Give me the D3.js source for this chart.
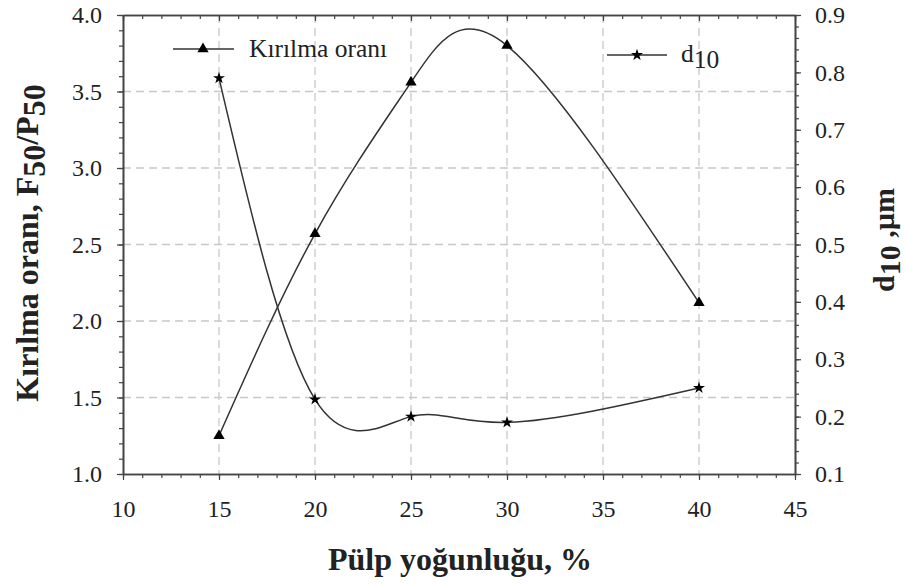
<!DOCTYPE html>
<html><head><meta charset="utf-8">
<script src="https://cdn.jsdelivr.net/npm/d3@7"></script>
<style>
body{margin:0;background:#fff;}
svg text{fill:#222;}
</style></head>
<body><svg id="c" width="906" height="585"></svg>
<script>
const xValues = [15, 20, 25, 30, 40];
const kirilmaOrani = [1.25, 2.57, 3.56, 3.80, 2.12];
const d10 = [0.79, 0.23, 0.20, 0.19, 0.25];
const xTicks = [10, 15, 20, 25, 30, 35, 40, 45];
const yLeftTicks = [1.0, 1.5, 2.0, 2.5, 3.0, 3.5, 4.0];
const yRightTicks = [0.1, 0.2, 0.3, 0.4, 0.5, 0.6, 0.7, 0.8, 0.9];
const xGrid = [15, 20, 25, 30, 35, 40];
const yGrid = [1.5, 2.0, 2.5, 3.0, 3.5];

const FONT = "Liberation Serif";
const svg = d3.select("#c");
const L = 123, R = 795, T = 15, B = 474;
const x = d3.scaleLinear().domain([10, 45]).range([L, R]);
const yL = d3.scaleLinear().domain([1, 4]).range([B, T]);
const yR = d3.scaleLinear().domain([0.1, 0.9]).range([B, T]);

const g = svg.append("g");
g.selectAll(".vg").data(xGrid).enter().append("line")
  .attr("x1", d => x(d)).attr("x2", d => x(d)).attr("y1", T).attr("y2", B)
  .attr("stroke", "#c8c8c8").attr("stroke-width", 1.3).attr("stroke-dasharray", "8,5");
g.selectAll(".hg").data(yGrid).enter().append("line")
  .attr("y1", d => yL(d)).attr("y2", d => yL(d)).attr("x1", L).attr("x2", R)
  .attr("stroke", "#c8c8c8").attr("stroke-width", 1.3).attr("stroke-dasharray", "8,5");

function styleAxis(sel, fs) {
  sel.attr("font-family", FONT);
  sel.select(".domain").attr("stroke", "#444").attr("stroke-width", 1.6);
  sel.selectAll(".tick line").attr("stroke", "#444").attr("stroke-width", 1.2);
  sel.selectAll("text").attr("font-size", fs).attr("font-family", FONT).attr("fill", "#222");
}
const minorX = d3.range(10, 45.01, 1);
const minorYL = d3.range(1, 4.001, 0.1);
const minorYR = d3.range(0.1, 0.9001, 0.02);

svg.append("g").attr("transform", `translate(0,${B})`)
  .call(d3.axisBottom(x).tickValues(minorX).tickSize(4).tickFormat("").tickSizeOuter(0))
  .call(s => styleAxis(s, 24));
svg.append("g").attr("transform", `translate(0,${B})`)
  .call(d3.axisBottom(x).tickValues(xTicks).tickSize(6).tickPadding(20).tickFormat(d3.format("d")).tickSizeOuter(0))
  .call(s => styleAxis(s, 24));
svg.append("g").attr("transform", `translate(0,${T})`)
  .call(d3.axisTop(x).tickValues(minorX).tickSize(-4).tickFormat("").tickSizeOuter(0))
  .call(s => styleAxis(s, 24));
svg.append("g").attr("transform", `translate(0,${T})`)
  .call(d3.axisTop(x).tickValues(xTicks).tickSize(-6).tickFormat("").tickSizeOuter(0))
  .call(s => styleAxis(s, 24));
svg.append("g").attr("transform", `translate(${L},0)`)
  .call(d3.axisLeft(yL).tickValues(minorYL).tickSize(4).tickFormat("").tickSizeOuter(0))
  .call(s => styleAxis(s, 24));
svg.append("g").attr("transform", `translate(${L},0)`)
  .call(d3.axisLeft(yL).tickValues(yLeftTicks).tickSize(6).tickPadding(15).tickFormat(d3.format(".1f")).tickSizeOuter(0))
  .call(s => styleAxis(s, 24));
svg.append("g").attr("transform", `translate(${R},0)`)
  .call(d3.axisRight(yR).tickValues(minorYR).tickSize(4).tickFormat("").tickSizeOuter(0))
  .call(s => styleAxis(s, 24));
svg.append("g").attr("transform", `translate(${R},0)`)
  .call(d3.axisRight(yR).tickValues(yRightTicks).tickSize(6).tickPadding(14).tickFormat(d3.format(".1f")).tickSizeOuter(0))
  .call(s => styleAxis(s, 24));

const lineK = d3.line().x((d, i) => x(xValues[i])).y(d => yL(d)).curve(d3.curveNatural);
const lineD = d3.line().x((d, i) => x(xValues[i])).y(d => yR(d)).curve(d3.curveNatural);
svg.append("path").attr("d", lineK(kirilmaOrani)).attr("fill", "none").attr("stroke", "#333").attr("stroke-width", 1.5);
svg.append("path").attr("d", lineD(d10)).attr("fill", "none").attr("stroke", "#333").attr("stroke-width", 1.5);

const tri = d3.symbol().type(d3.symbolTriangle).size(55);
const star = d3.symbol().type(d3.symbolStar).size(45);
svg.selectAll(".tri").data(kirilmaOrani).enter().append("path")
  .attr("d", tri).attr("transform", (d, i) => `translate(${x(xValues[i])},${yL(d)})`).attr("fill", "#000");
svg.selectAll(".star").data(d10).enter().append("path")
  .attr("d", star).attr("transform", (d, i) => `translate(${x(xValues[i])},${yR(d)})`).attr("fill", "#000");

const lg = svg.append("g");
lg.append("line").attr("x1", 173).attr("x2", 234).attr("y1", 49).attr("y2", 49).attr("stroke", "#333").attr("stroke-width", 1.5);
lg.append("path").attr("d", tri).attr("transform", "translate(203,49)").attr("fill", "#000");
lg.append("text").attr("x", 249).attr("y", 57).attr("font-family", FONT).attr("font-size", 25.5).text("Kırılma oranı");
lg.append("line").attr("x1", 607).attr("x2", 667).attr("y1", 55).attr("y2", 55).attr("stroke", "#333").attr("stroke-width", 1.5);
lg.append("path").attr("d", star).attr("transform", "translate(637,55)").attr("fill", "#000");
const dt = lg.append("text").attr("x", 681).attr("y", 62).attr("font-family", FONT).attr("font-size", 25.5);
dt.append("tspan").text("d");
dt.append("tspan").attr("dy", 6).text("10");

svg.append("text").attr("x", 460).attr("y", 570).attr("text-anchor", "middle")
  .attr("font-family", FONT).attr("font-size", 32).attr("font-weight", "bold").text("Pülp yoğunluğu, %");

const lt = svg.append("text").attr("transform", "translate(38,243) rotate(-90)").attr("text-anchor", "middle")
  .attr("font-family", FONT).attr("font-size", 32).attr("font-weight", "bold");
lt.append("tspan").text("Kırılma oranı, F");
lt.append("tspan").attr("dy", 7).text("50");
lt.append("tspan").attr("dy", -7).text("/P");
lt.append("tspan").attr("dy", 7).text("50");

const rt = svg.append("text").attr("transform", "translate(894,240) rotate(-90)").attr("text-anchor", "middle")
  .attr("font-family", FONT).attr("font-size", 30).attr("font-weight", "bold");
rt.append("tspan").text("d");
rt.append("tspan").attr("dy", 6).text("10");
rt.append("tspan").attr("dy", -6).text(" ,µm");
</script></body></html>
